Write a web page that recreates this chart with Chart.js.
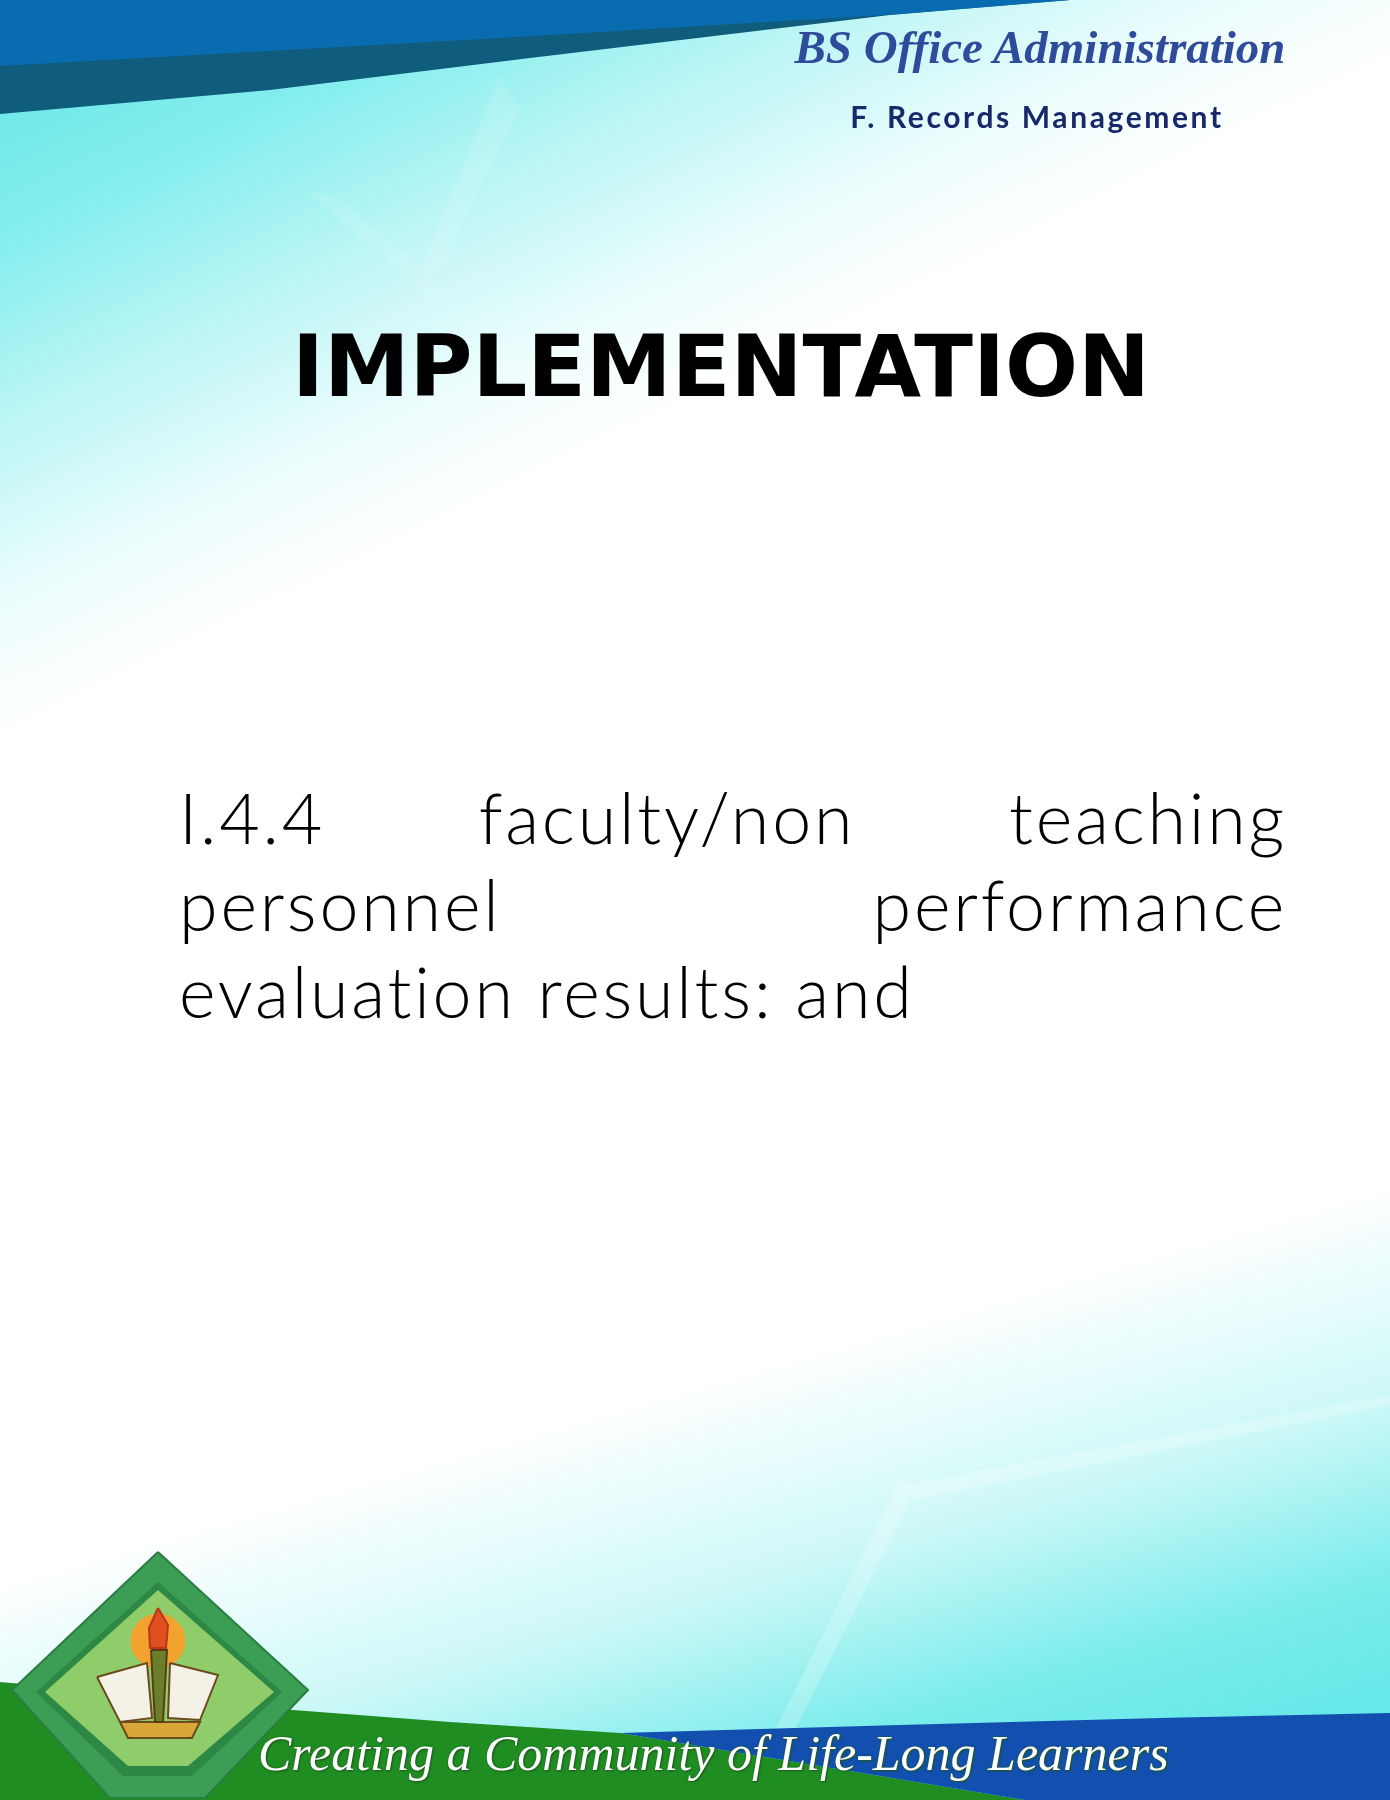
<!DOCTYPE html>
<html>
<head>
<meta charset="utf-8">
<script src="https://cdn.jsdelivr.net/npm/chart.js@4.4.0/dist/chart.umd.min.js"></script>
<style>
  html, body { margin: 0; padding: 0; }
  body {
    width: 1390px; height: 1800px; overflow: hidden; position: relative;
    background:
      linear-gradient(344deg, rgba(88,228,230,1) 0%, rgba(110,234,234,0.92) 10%, rgba(160,242,241,0.55) 18%, rgba(255,255,255,0) 28%),
      linear-gradient(154deg, #5ee4e6 0%, #86eeee 10%, #c2f6f6 18%, #effdfd 25%, #ffffff 30%, #ffffff 100%);
  }
  #bg { position: absolute; left: 0; top: 0; z-index: 0; }
  .txt { position: absolute; z-index: 1; margin: 0; white-space: nowrap; }
  #program {
    left: 780px; top: 20px; width: 520px; text-align: center;
    font-family: "Liberation Serif", serif; font-style: italic; font-weight: bold;
    font-size: 47px; color: #2f4b9c;
  }
  #section {
    left: 787px; top: 98px; width: 500px; text-align: center;
    font-family: Lato, sans-serif; font-weight: 700; font-size: 30px; color: #17296b;
    letter-spacing: 2.6px;
  }
  #title {
    left: 0; top: 316px; width: 1442px; text-align: center;
    font-family: "DejaVu Sans", sans-serif; font-weight: bold; font-size: 86px; color: #000;
  }
  .line {
    position: absolute; z-index: 1; left: 179px; width: 1108px;
    font-family: Lato, sans-serif; font-weight: 300; font-size: 70px; line-height: 87px; color: #000;
    letter-spacing: 2.8px; font-variant-ligatures: none;
    text-align: justify; text-align-last: justify; white-space: normal;
  }
  .line.last { text-align-last: left; }
  #motto {
    left: 258px; top: 1724px;
    font-family: "Liberation Serif", serif; font-style: italic; font-size: 50px; color: #ffffff;
    text-shadow: 0 0 2px #1d5a1d, 1px 1px 2px #1d5a1d;
  }
</style>
</head>
<body>
<canvas id="bg" width="1390" height="1800"></canvas>
<div class="txt" id="program">BS Office Administration</div>
<div class="txt" id="section">F. Records Management</div>
<div class="txt" id="title">IMPLEMENTATION</div>
<div class="line" style="top:774px">I.4.4 faculty/non teaching</div>
<div class="line" style="top:861px">personnel performance</div>
<div class="line last" style="top:948px">evaluation results: and</div>
<div class="txt" id="motto">Creating a Community of Life-Long Learners</div>
<script>
// outlines of the page decorations, in page pixels (x right, y down)
const topBandOuter = [[0, 0], [1070, 0], [890, 15], [530, 58], [270, 90], [0, 114]];
const topBandInner = [[0, 0], [1070, 0], [900, 14], [500, 38], [0, 66]];
const streakA = [[500, 76], [520, 110], [440, 270], [420, 270]];
const streakB = [[305, 190], [335, 196], [450, 290], [430, 296]];
const streakC = [[900, 1480], [915, 1490], [760, 1800], [740, 1800]];
const streakD = [[905, 1485], [1390, 1395], [1390, 1405], [915, 1500]];
const greenBand = [[0, 1682], [150, 1695], [293, 1710], [450, 1722], [620, 1733], [1025, 1800], [0, 1800]];
const blueBand = [[620, 1733], [900, 1725], [1160, 1718], [1390, 1713], [1390, 1800], [1025, 1800]];
const logoOuter = [[158, 1552], [308, 1690], [205, 1798], [110, 1798], [12, 1690]];
const logoRing = [[158, 1582], [282, 1692], [192, 1776], [123, 1776], [36, 1692]];
const logoField = [[158, 1590], [274, 1692], [188, 1766], [128, 1766], [45, 1692]];
const bookLeft = [[97, 1677], [147, 1663], [152, 1718], [120, 1722]];
const bookRight = [[170, 1663], [218, 1675], [200, 1720], [168, 1718]];
const torch = [[151, 1650], [167, 1650], [163, 1722], [155, 1722]];
const flame = [[158, 1608], [168, 1625], [166, 1648], [150, 1648], [149, 1628]];
const bookBase = [[120, 1722], [200, 1722], [192, 1738], [128, 1738]];
const sunCentre = [[158, 1641]];

const toPoints = pts => pts.map(p => ({ x: p[0], y: p[1] }));

const shapes = [
    { data: streakA, fill: 'rgba(255,255,255,0.12)' },
    { data: streakB, fill: 'rgba(255,255,255,0.10)' },
    { data: streakC, fill: 'rgba(255,255,255,0.22)' },
    { data: streakD, fill: 'rgba(255,255,255,0.22)' },
    { data: topBandOuter, fill: '#0f5c7c' },
    { data: topBandInner, fill: '#0a6cb0' },
    { data: greenBand, fill: '#1f8d22' },
    { data: blueBand, fill: '#124fae' },
    { data: logoOuter, fill: '#3c9d55', line: '#2a7d40' },
    { data: logoRing, fill: '#2d8745' },
    { data: logoField, fill: '#8fcd6a' },
    { data: bookBase, fill: '#d9a63a', line: '#6b4a1e' },
    { data: bookLeft, fill: '#f4f1e6', line: '#6b4a1e' },
    { data: bookRight, fill: '#f4f1e6', line: '#6b4a1e' },
    { data: torch, fill: '#6b7f2a', line: '#5a3d18' },
    { data: flame, fill: '#e0501e', line: '#b8361a' }
];

const datasets = shapes.map((s, i) => ({
    data: toPoints(s.data.concat([s.data[0]])),
    showLine: true,
    fill: 'shape',
    backgroundColor: s.fill,
    borderColor: s.line || s.fill,
    borderWidth: s.line ? 2 : 0,
    pointRadius: 0,
    tension: 0,
    clip: false,
    order: shapes.length + 1 - i
}));

// the orange sun behind the torch
datasets.push({
    data: toPoints(sunCentre),
    pointRadius: 27,
    pointBackgroundColor: '#f2a22e',
    pointBorderColor: '#f2a22e',
    showLine: false,
    clip: false,
    order: 5
});

new Chart(document.getElementById('bg').getContext('2d'), {
    type: 'scatter',
    data: { datasets: datasets },
    options: {
        responsive: false,
        animation: false,
        events: [],
        layout: { padding: 0, autoPadding: false },
        scales: {
            x: { type: 'linear', min: 0, max: 1390, display: false },
            y: { type: 'linear', min: 0, max: 1800, reverse: true, display: false }
        },
        plugins: {
            legend: { display: false },
            tooltip: { enabled: false }
        }
    }
});
</script>
</body>
</html>
